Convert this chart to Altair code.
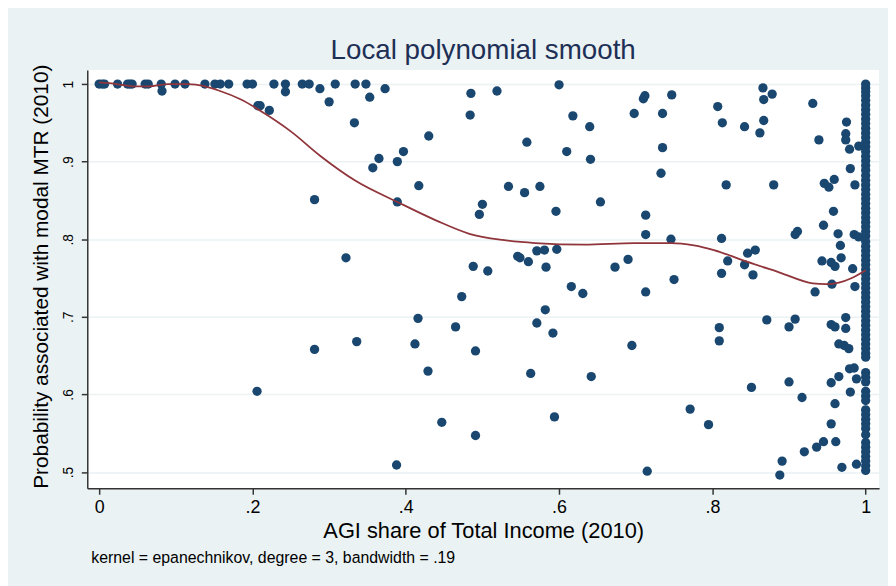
import altair as alt
import pandas as pd

FONT = "Liberation Sans"

# scattered observations (AGI share, probability)
x_vals = [
    0.000, 0.004, 0.007, 0.024, 0.037, 0.040, 0.043, 0.060, 0.064, 0.081, 0.099, 0.112,
    0.138, 0.151, 0.158, 0.169, 0.193, 0.200, 0.228, 0.243, 0.265, 0.274, 0.308, 0.334, 0.348,
    0.082, 0.243, 0.288, 0.207, 0.210, 0.222, 0.300, 0.333, 0.281, 0.322, 0.353, 0.373,
    0.485, 0.519, 0.600, 0.484, 0.618, 0.640, 0.698, 0.430, 0.558, 0.397, 0.365, 0.389,
    0.357, 0.610, 0.641, 0.417, 0.389, 0.534, 0.555, 0.575, 0.500, 0.496, 0.596, 0.654,
    0.546, 0.549, 0.571, 0.581, 0.597, 0.560, 0.488, 0.507, 0.583, 0.673, 0.690,
    0.710, 0.712, 0.747, 0.735, 0.807, 0.866, 0.878, 0.867, 0.813, 0.842, 0.867, 0.862,
    0.931, 0.939, 0.735, 0.733, 0.818, 0.880, 0.975, 0.974, 0.974, 0.979, 0.991, 0.980,
    0.946, 0.952, 0.959, 0.986, 0.713, 0.713, 0.746, 0.812, 0.908, 0.911, 0.945, 0.958,
    0.964, 0.967, 0.985, 0.991, 0.820, 0.846, 0.856, 0.842, 0.812, 0.853, 0.750, 0.943,
    0.955, 0.960, 0.968, 0.983,
    0.713, 0.695, 0.809, 0.809, 0.871, 0.900, 0.908, 0.851, 0.900, 0.917, 0.771, 0.795,
    0.715, 0.891, 0.888, 0.920, 0.936, 0.945, 0.961, 0.955, 0.960, 0.955, 0.965, 0.980,
    0.988, 0.979, 0.985, 0.955, 0.960, 0.974, 0.974, 0.965, 0.972, 0.978, 0.934, 0.956,
    0.986, 0.969, 0.988,
    0.206, 0.281, 0.336, 0.416, 0.412, 0.429, 0.465, 0.473, 0.491, 0.616, 0.631, 0.582,
    0.571, 0.592, 0.563, 0.642, 0.447, 0.491, 0.594, 0.388,
]
y_vals = [
    1.000, 1.000, 1.000, 1.000, 1.000, 1.000, 1.000, 1.000, 1.000, 1.000, 1.000, 1.000,
    1.000, 1.000, 1.000, 1.000, 1.000, 1.000, 1.000, 1.000, 1.000, 1.000, 1.000, 1.000, 1.000,
    0.991, 0.990, 0.994, 0.972, 0.972, 0.966, 0.977, 0.950, 0.851, 0.776, 0.983, 0.994,
    0.988, 0.991, 0.999, 0.960, 0.959, 0.945, 0.962, 0.933, 0.925, 0.913, 0.904, 0.900,
    0.892, 0.913, 0.903, 0.869, 0.848, 0.868, 0.860, 0.868, 0.845, 0.832, 0.836, 0.848,
    0.778, 0.776, 0.785, 0.786, 0.787, 0.771, 0.765, 0.759, 0.764, 0.764, 0.774,
    0.981, 0.985, 0.986, 0.962, 0.971, 0.995, 0.987, 0.980, 0.950, 0.945, 0.953, 0.937,
    0.975, 0.928, 0.918, 0.885, 0.870, 0.870, 0.951, 0.936, 0.928, 0.916, 0.920, 0.891,
    0.872, 0.867, 0.877, 0.870, 0.831, 0.806, 0.800, 0.801, 0.806, 0.810, 0.818, 0.836,
    0.807, 0.792, 0.806, 0.803, 0.772, 0.782, 0.786, 0.767, 0.756, 0.754, 0.748, 0.772,
    0.770, 0.765, 0.776, 0.762,
    0.732, 0.663, 0.686, 0.669, 0.696, 0.687, 0.697, 0.609, 0.616, 0.596, 0.581, 0.561,
    0.501, 0.514, 0.496, 0.526, 0.532, 0.539, 0.539, 0.562, 0.588, 0.615, 0.623, 0.603,
    0.620, 0.633, 0.634, 0.690, 0.687, 0.699, 0.685, 0.665, 0.663, 0.659, 0.732, 0.742,
    0.739, 0.506, 0.510,
    0.604, 0.658, 0.668, 0.698, 0.665, 0.630, 0.687, 0.726, 0.656, 0.739, 0.730, 0.709,
    0.692, 0.679, 0.627, 0.623, 0.564, 0.547, 0.571, 0.509,
]

# dense column of observations at AGI share = 1
col_y = [
    1.000, 0.995, 0.990, 0.985, 0.979, 0.973, 0.967, 0.961, 0.955, 0.949, 0.943, 0.937,
    0.931, 0.925, 0.919, 0.913, 0.907, 0.901, 0.895, 0.889, 0.882, 0.876, 0.870, 0.864,
    0.858, 0.852, 0.846, 0.840, 0.834, 0.828, 0.822, 0.816, 0.810, 0.804, 0.797, 0.791,
    0.785, 0.779, 0.773, 0.767, 0.761, 0.755, 0.749, 0.743, 0.737, 0.731, 0.725, 0.719,
    0.713, 0.707, 0.701, 0.695, 0.689, 0.683, 0.677, 0.671, 0.665, 0.659, 0.653, 0.648,
    0.628, 0.622, 0.616, 0.604, 0.598, 0.592, 0.580, 0.574, 0.568, 0.562, 0.556, 0.548,
    0.538, 0.532, 0.526, 0.520, 0.514, 0.508, 0.502,
]

# local polynomial smooth
smooth_x = [0.000, 0.023, 0.047, 0.065, 0.090, 0.116, 0.138, 0.155, 0.185, 0.216, 0.250,
            0.289, 0.335, 0.389, 0.440, 0.483, 0.526, 0.569, 0.633, 0.698, 0.746, 0.776,
            0.802, 0.845, 0.888, 0.931, 0.948, 0.965, 0.982, 1.000]
smooth_y = [1.002, 1.000, 0.997, 0.997, 1.000, 1.000, 0.997, 0.992, 0.980, 0.962, 0.939,
            0.907, 0.875, 0.848, 0.824, 0.807, 0.799, 0.795, 0.793, 0.795, 0.795, 0.792,
            0.786, 0.771, 0.757, 0.743, 0.742, 0.744, 0.750, 0.760]

x_ticks = [0, 0.2, 0.4, 0.6, 0.8, 1]
y_ticks = [0.5, 0.6, 0.7, 0.8, 0.9, 1]

footnote = "kernel = epanechnikov, degree = 3, bandwidth = .19"
title_text = "Local polynomial smooth"
x_title = "AGI share of Total Income (2010)"
y_title = "Probability associated with modal MTR (2010)"

pts = pd.DataFrame({"x": x_vals + [1.0] * len(col_y), "y": y_vals + col_y})
smooth = pd.DataFrame({"x": smooth_x, "y": smooth_y})
note = pd.DataFrame({"note": [footnote]})
head = pd.DataFrame({"title": [title_text]})

label_expr = "datum.value == 0 ? '0' : datum.value == 1 ? '1' : '.' + format(round(datum.value * 10), 'd')"

xscale = alt.Scale(domain=[-0.0155, 1.0175], nice=False, zero=False)
yscale = alt.Scale(domain=[0.479, 1.018], nice=False, zero=False)

xaxis = alt.Axis(
    values=x_ticks, labelExpr=label_expr, grid=False, title=x_title,
    labelFont=FONT, labelFontSize=18, labelColor="#000000", labelPadding=4,
    tickSize=6, tickColor="#333333", tickWidth=1.5,
    domainColor="#333333", domainWidth=1.5,
    titleFont=FONT, titleFontSize=22, titleFontWeight="normal", titleColor="#000000",
    titleBaseline="alphabetic", titleY=50,
)
yaxis = alt.Axis(
    values=y_ticks, labelExpr=label_expr, grid=True, gridColor="#eaf2f3", gridWidth=1.5,
    title=y_title, labelAngle=270, labelAlign="center", labelBaseline="alphabetic",
    labelFont=FONT, labelFontSize=14, labelColor="#000000", labelPadding=9,
    tickSize=6, tickColor="#333333", tickWidth=1.5,
    domainColor="#333333", domainWidth=1.5,
    titleFont=FONT, titleFontSize=21, titleFontWeight="normal", titleColor="#000000",
    titleBaseline="alphabetic", titleX=-40, titleY=208, titleAngle=270,
)

points = alt.Chart(pts).mark_circle(size=88, color="#1a476f", opacity=1).encode(
    x=alt.X("x:Q", scale=xscale, axis=xaxis),
    y=alt.Y("y:Q", scale=yscale, axis=yaxis),
)

line = alt.Chart(smooth).mark_line(color="#90353b", strokeWidth=1.8, interpolate="monotone").encode(
    x=alt.X("x:Q", scale=xscale),
    y=alt.Y("y:Q", scale=yscale),
)

foot = alt.Chart(note).mark_text(
    align="left", baseline="alphabetic", font=FONT, fontSize=16, color="#000000"
).encode(x=alt.value(4), y=alt.value(497), text="note:N")

heading = alt.Chart(head).mark_text(
    align="center", baseline="alphabetic", font=FONT, fontSize=28, color="#1e2f56"
).encode(x=alt.value(399.5), y=alt.value(-11), text="title:N")

chart = alt.layer(points, line, foot, heading).properties(
    width=799,
    height=422,
    autosize="none",
    padding={"left": 80, "top": 60, "right": 9, "bottom": 96},
    background="#eaf2f3",
).configure_view(fill="white", stroke=None)

chart.save("out.html", embed_options={"renderer": "svg", "actions": False})
